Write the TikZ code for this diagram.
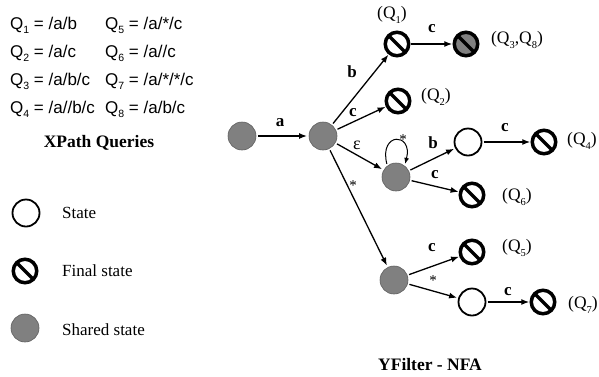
\documentclass[tikz,border=0pt]{standalone}
\usepackage{fontspec}
\setmainfont{Liberation Serif}
\newfontfamily\arialf{Liberation Sans}
\usetikzlibrary{arrows.meta}
\definecolor{shfill}{RGB}{128,128,128}
\definecolor{shdraw}{RGB}{95,95,95}
\newcommand\sbs[1]{\raisebox{-0.55ex}{\fontsize{10.5}{10.5}\selectfont #1}}
\tikzset{
  shared/.style={circle, fill=shfill, draw=shdraw, line width=0.6pt, minimum size=28pt, inner sep=0pt, outer sep=2pt},
  stt/.style={circle, fill=white, draw=black, line width=1.8pt, minimum size=27pt, inner sep=0pt, outer sep=2pt},
  fin/.style={circle, draw=black, line width=3.5pt, minimum size=23.5pt, inner sep=0pt, outer sep=2pt,
    path picture={\draw[line width=3.5pt] (path picture bounding box.north west) -- (path picture bounding box.south east);}},
  arr/.style={-{Latex[length=8pt,width=6pt]}, line width=1.3pt},
  lbl/.style={font=\bfseries\fontsize{17}{17}\selectfont, inner sep=0pt},
  star/.style={font=\fontsize{15}{15}\selectfont, inner sep=0pt},
  qlbl/.style={font=\fontsize{17.5}{17.5}\selectfont, inner sep=0pt},
  query/.style={font=\arialf\fontsize{17}{17}\selectfont, inner sep=0pt, anchor=base west},
  title/.style={font=\bfseries\fontsize{17.5}{17.5}\selectfont, inner sep=0pt},
  legtxt/.style={font=\fontsize{17}{17}\selectfont, inner sep=0pt, anchor=west},
}
\begin{document}
\begin{tikzpicture}[x=1pt,y=-1pt]
\useasboundingbox (0,0) rectangle (599,376);
\fill[white] (0,0) rectangle (599,376);

% queries
\node[query] (q1) at (10,29) {Q\sbs{1} = /a/b};
\node[query] (q2) at (10,57) {Q\sbs{2} = /a/c};
\node[query] (q3) at (10,85) {Q\sbs{3} = /a/b/c};
\node[query] (q4) at (10,113) {Q\sbs{4} = /a//b/c};
\node[query] (q5) at (105,29) {Q\sbs{5} = /a/*/c};
\node[query] (q6) at (105,57) {Q\sbs{6} = /a//c};
\node[query] (q7) at (105,85) {Q\sbs{7} = /a/*/*/c};
\node[query] (q8) at (105,113) {Q\sbs{8} = /a/b/c};
\node[title] (xt) at (99,143) {XPath Queries};

% legend
\node[stt] (ls) at (26,213) {};
\node[fin] (lf) at (25,271) {};
\node[shared] (lsh) at (25,328) {};
\node[legtxt] (lst) at (62,213) {State};
\node[legtxt] (lft) at (62,271) {Final state};
\node[legtxt] (lsht) at (62,330) {Shared state};

% NFA nodes
\node[shared] (s0) at (242,136) {};
\node[shared] (n1) at (323,136) {};
\node[fin] (f1) at (397,44) {};
\node[fin, fill=shfill] (f38) at (466,44) {};
\node[fin] (f2) at (398,101) {};
\node[shared] (eps) at (396,177) {};
\node[stt] (st1) at (468,142) {};
\node[fin] (f4) at (544,142) {};
\node[fin] (f6) at (472,195) {};
\node[shared] (sh3) at (394,280) {};
\node[fin] (f5) at (472,252) {};
\node[stt] (st2) at (472,302) {};
\node[fin] (f7) at (543,302) {};

% edges
\draw[arr] (s0) -- (n1);
\draw[arr] (n1) -- (f1);
\draw[arr] (n1) -- (f2);
\draw[arr] (n1) -- (eps);
\draw[arr] (n1) -- (sh3);
\draw[arr] (f1) -- (f38);
\draw[arr] (eps) -- (st1);
\draw[arr] (eps) -- (f6);
\draw[arr] (st1) -- (f4);
\draw[arr] (sh3) -- (f5);
\draw[arr] (sh3) -- (st2);
\draw[arr] (st2) -- (f7);
\draw[-{Latex[length=6pt,width=5pt]}, line width=1pt] (eps.125) .. controls +(-8,-32) and +(8,-32) .. (eps.55);

% edge labels
\node[lbl] (la) at (280,123) {a};
\node[lbl] (lb) at (352,72) {b};
\node[lbl] (lc) at (353,113) {c};
\node[lbl, font=\fontsize{18}{18}\selectfont] (le) at (357,145) {ε};
\node[star] (lstar) at (353,186) {*};
\node[lbl] (lc2) at (432,29) {c};
\node[star] (lloop) at (403,140) {*};
\node[lbl] (lb2) at (433,143) {b};
\node[lbl] (lc3) at (435,175) {c};
\node[lbl] (lc4) at (505,128) {c};
\node[lbl] (lc5) at (432,248) {c};
\node[star] (lstar2) at (433,281) {*};
\node[lbl] (lc6) at (508,292) {c};

% query labels
\node[qlbl] (tq1) at (392,15) {(Q\sbs{1})};
\node[qlbl] (tq38) at (517,40) {(Q\sbs{3},Q\sbs{8})};
\node[qlbl] (tq2) at (436,97) {(Q\sbs{2})};
\node[qlbl] (tq4) at (582,141) {(Q\sbs{4})};
\node[qlbl] (tq6) at (517,197) {(Q\sbs{6})};
\node[qlbl] (tq5) at (517,248) {(Q\sbs{5})};
\node[qlbl] (tq7) at (583,305) {(Q\sbs{7})};

\node[title] (yt) at (430,365) {YFilter - NFA};
\end{tikzpicture}
\end{document}
